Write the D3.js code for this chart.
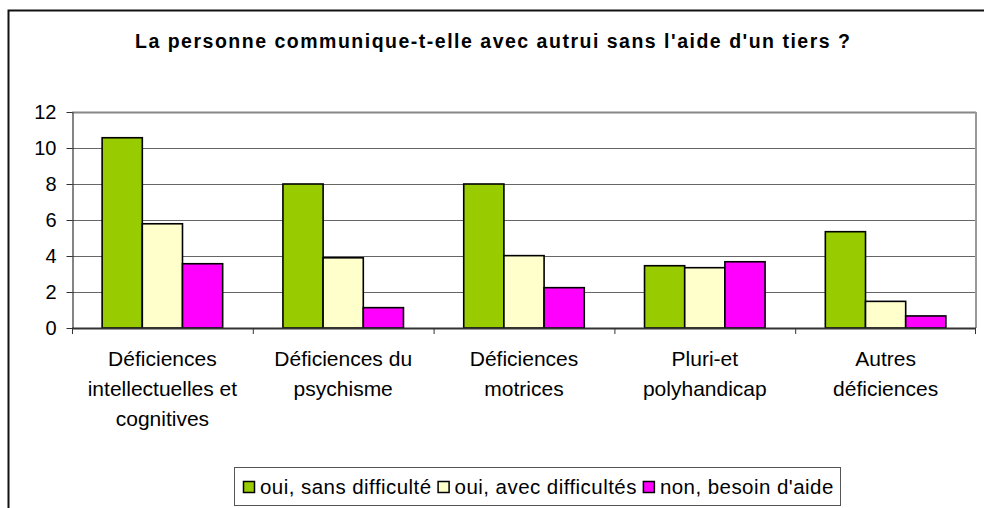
<!DOCTYPE html>
<html>
<head>
<meta charset="utf-8">
<script src="https://cdn.jsdelivr.net/npm/d3@7"></script>
<style>
  html, body { margin: 0; padding: 0; background: #fff; }
  svg { display: block; font-family: 'Liberation Sans', Arial, sans-serif; }
</style>
</head>
<body>
<div id="grafica"></div>
<script>
// datos
categorias = [
  ['Déficiences', 'intellectuelles et', 'cognitives'],
  ['Déficiences du', 'psychisme'],
  ['Déficiences', 'motrices'],
  ['Pluri-et', 'polyhandicap'],
  ['Autres', 'déficiences']
]
series = ['oui, sans difficulté', 'oui, avec difficultés', "non, besoin d'aide"]
sansDifficulte = [10.57, 8.0, 8.0, 3.46, 5.35]
avecDifficultes = [5.79, 3.9, 4.02, 3.35, 1.48]
besoinAide = [3.57, 1.13, 2.24, 3.68, 0.67]
ticksY = [0, 2, 4, 6, 8, 10, 12]
colores = ['#99CC00', '#FFFFCC', '#FF00FF']

ancho_total = 984
alto_total = 508
margin = { left: 72, right: 8, top: 112, bottom: 180 }
ancho = ancho_total - margin.left - margin.right
alto = alto_total - margin.top - margin.bottom

valores = [sansDifficulte, avecDifficultes, besoinAide]
datos = categorias.map((c, i) => ({
  idx: i,
  label: c,
  vals: series.map((s, j) => ({ serie: s, j: j, v: valores[j][i] }))
}))

svg = d3.select('#grafica')
  .append('svg')
  .attr('width', ancho_total)
  .attr('height', alto_total)

// marco exterior
svg.append('rect')
  .attr('x', 8.5).attr('y', 10.5)
  .attr('width', 1000).attr('height', 600)
  .attr('fill', 'none')
  .attr('stroke', '#111')
  .attr('stroke-width', 2)

// titulo
svg.append('text')
  .attr('x', 135)
  .attr('y', 48)
  .attr('font-size', '19.5px')
  .attr('font-weight', 'bold')
  .attr('textLength', 715)
  .attr('lengthAdjust', 'spacing')
  .attr('fill', '#000')
  .text("La personne communique-t-elle avec autrui sans l'aide d'un tiers ?")

g = svg.append('g')
  .attr('transform', `translate(${margin.left}, ${margin.top})`)

// escaladores
x0 = d3.scaleBand()
  .domain(datos.map((d) => d.idx))
  .range([0, ancho])
  .padding(0)
x1 = d3.scaleBand()
  .domain(series)
  .range([0, x0.bandwidth()])
  .paddingInner(0)
  .paddingOuter(0.75)
y = d3.scaleLinear()
  .domain([0, 12])
  .range([alto, 0])

// lineas de cuadricula
g.selectAll('.grid')
  .data(ticksY.filter((t) => t > 0))
  .enter()
  .append('line')
  .attr('x1', 0).attr('x2', ancho)
  .attr('y1', (d) => Math.round(y(d)) + 0.5)
  .attr('y2', (d) => Math.round(y(d)) + 0.5)
  .attr('stroke', (d) => d == 12 ? '#888' : '#666')
  .attr('stroke-width', (d) => d == 12 ? 2 : 1)

// borde derecho
g.append('line')
  .attr('x1', ancho).attr('x2', ancho)
  .attr('y1', 0).attr('y2', alto)
  .attr('stroke', '#999')
  .attr('stroke-width', 2)

// barras
grupos = g.selectAll('.grupo')
  .data(datos)
  .enter()
  .append('g')
  .attr('transform', (d) => `translate(${x0(d.idx)}, 0)`)

grupos.selectAll('rect')
  .data((d) => d.vals)
  .enter()
  .append('rect')
  .attr('x', (d) => x1(d.serie))
  .attr('y', (d) => y(d.v))
  .attr('width', x1.bandwidth())
  .attr('height', (d) => alto - y(d.v))
  .attr('fill', (d) => colores[d.j])
  .attr('stroke', '#000')
  .attr('stroke-width', 1.6)

// eje Y
yAxisCall = d3.axisLeft(y)
  .tickValues(ticksY)
  .tickSize(6)
  .tickSizeOuter(0)
yGroup = g.append('g').attr('transform', 'translate(0.5,0)').call(yAxisCall)
yGroup.select('.domain').attr('stroke', '#333').attr('stroke-width', 1.2)
yGroup.selectAll('.tick line').attr('stroke', '#333')
yGroup.selectAll('.tick text')
  .attr('font-size', '20px')
  .attr('font-family', "'Liberation Sans', Arial, sans-serif")
  .attr('fill', '#000')
  .attr('x', -16)

// eje X
xGroup = g.append('g').attr('transform', `translate(0, ${alto})`)
xGroup.append('line')
  .attr('x1', 0).attr('x2', ancho)
  .attr('y1', 0.5).attr('y2', 0.5)
  .attr('stroke', '#333')
  .attr('stroke-width', 2)
xGroup.selectAll('.xtick')
  .data(d3.range(categorias.length + 1))
  .enter()
  .append('line')
  .attr('x1', (i) => i < categorias.length ? x0(i) + 0.5 : ancho - 0.5)
  .attr('x2', (i) => i < categorias.length ? x0(i) + 0.5 : ancho - 0.5)
  .attr('y1', 0).attr('y2', 6)
  .attr('stroke', '#333')

etiquetas = xGroup.selectAll('.etq')
  .data(datos)
  .enter()
  .append('text')
  .attr('text-anchor', 'middle')
  .attr('font-size', '21px')
  .attr('fill', '#000')
  .attr('transform', (d) => `translate(${x0(d.idx) + x0.bandwidth() / 2}, 0)`)
etiquetas.selectAll('tspan')
  .data((d) => d.label)
  .enter()
  .append('tspan')
  .attr('x', 0)
  .attr('y', (d, i) => 38 + i * 30)
  .text((d) => d)

// leyenda
leyenda = svg.append('g')
leyenda.append('rect')
  .attr('x', 234.5).attr('y', 467.5)
  .attr('width', 606).attr('height', 38)
  .attr('fill', '#fff')
  .attr('stroke', '#555')
posX = 243
series.forEach((s, i) => {
  item = leyenda.append('g').attr('transform', `translate(${posX}, 0)`)
  item.append('rect')
    .attr('x', 0.5).attr('y', 481.5)
    .attr('width', 11).attr('height', 11)
    .attr('fill', colores[i])
    .attr('stroke', '#000')
    .attr('stroke-width', 1.5)
  txt = item.append('text')
    .attr('x', 17)
    .attr('y', 494)
    .attr('font-size', '20.5px')
    .attr('letter-spacing', '0.45px')
    .attr('fill', '#000')
    .text(s)
  posX = posX + 17 + txt.node().getComputedTextLength() + 6
})
</script>
</body>
</html>
